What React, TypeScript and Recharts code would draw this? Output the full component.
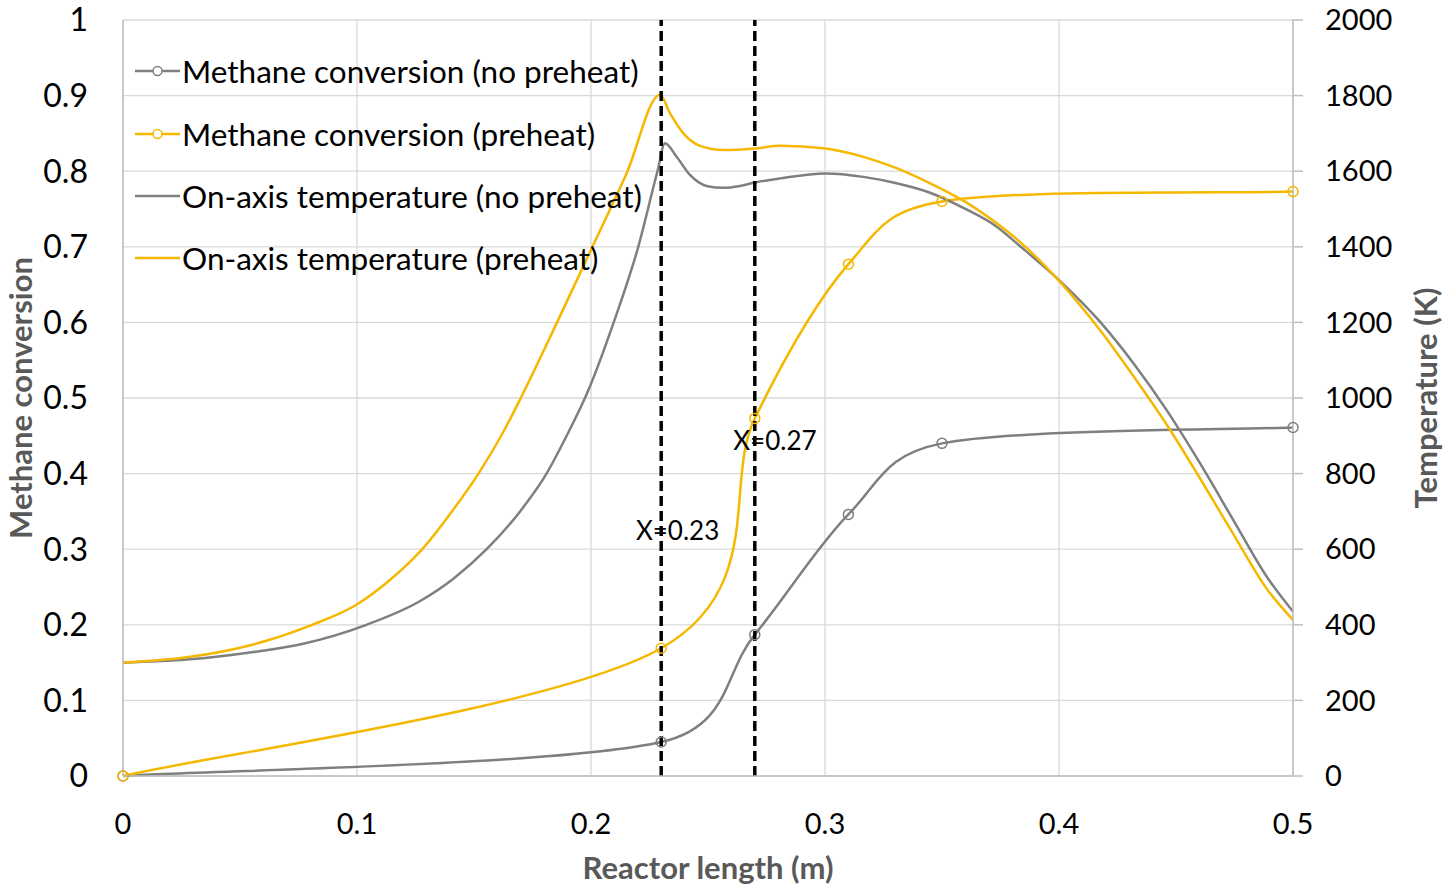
import React from 'react'
import {
  LineChart, Line, XAxis, YAxis, CartesianGrid, Legend, ReferenceLine, ReferenceDot,
} from 'recharts'

const FONT = 'Lato, "Open Sans", sans-serif'
const GREY = '#7f7f7f'
const GOLD = '#f5b800'
const GRID = '#d9d9d9'
const AXIS = '#bfbfbf'

// methane conversion, sampled at the marked points
const convX = [0, 0.23, 0.27, 0.31, 0.35, 0.5]
const convNoPreheat = [0, 0.045, 0.187, 0.346, 0.44, 0.461]
const convPreheat = [0, 0.169, 0.473, 0.677, 0.76, 0.773]

// on-axis temperature (K)
const tempNoPreheatX = [
  0, 0.0272, 0.0557, 0.077, 0.104, 0.127, 0.1412, 0.1554, 0.1697, 0.181, 0.1896, 0.1985,
  0.2097, 0.2202, 0.2284, 0.2316, 0.2366, 0.2423, 0.2494, 0.2565, 0.2637, 0.27, 0.2808,
  0.3003, 0.3164, 0.3306, 0.3449, 0.3591, 0.3734, 0.3833, 0.4, 0.4175, 0.4318, 0.446,
  0.4603, 0.4745, 0.4888, 0.5,
]
const tempNoPreheatK = [
  300, 308, 328, 350, 400, 463, 522, 600, 700, 800, 900, 1015,
  1200, 1400, 1600, 1674, 1638, 1590, 1561, 1556, 1561, 1570, 1581,
  1594, 1585, 1568, 1543, 1503, 1453, 1402, 1312, 1202, 1092, 968,
  827, 677, 527, 435,
]
const tempPreheatX = [
  0, 0.0272, 0.0557, 0.08, 0.1003, 0.1138, 0.1276, 0.1412, 0.1519, 0.1625, 0.17, 0.1855,
  0.2006, 0.2152, 0.2295, 0.2338, 0.2395, 0.2466, 0.2565, 0.27, 0.2808, 0.3003, 0.3164,
  0.3306, 0.3449, 0.3591, 0.3734, 0.3833, 0.4, 0.4175, 0.4318, 0.446, 0.4603, 0.4745,
  0.4888, 0.5,
]
const tempPreheatK = [
  300, 314, 348, 398, 455, 517, 598, 705, 800, 910, 1000, 1200,
  1400, 1594, 1802, 1753, 1700, 1667, 1656, 1660, 1667, 1660, 1638,
  1608, 1568, 1522, 1462, 1413, 1310, 1180, 1058, 930, 787, 640,
  495, 413,
]

const xTicks = [0, 0.1, 0.2, 0.3, 0.4, 0.5]
const convTicks = [0, 0.1, 0.2, 0.3, 0.4, 0.5, 0.6, 0.7, 0.8, 0.9, 1]
const tempTicks = [0, 200, 400, 600, 800, 1000, 1200, 1400, 1600, 1800, 2000]

const markerX = [0.23, 0.27]
const markerText = ['X=0.23', 'X=0.27']
const markerTextX = [0.237, 0.2786]
const markerTextY = [0.325, 0.444]

const convData = convX.map((x, i) => ({ x, convNoPreheat: convNoPreheat[i], convPreheat: convPreheat[i] }))
const tempNoPreheatData = tempNoPreheatX.map((x, i) => ({ x, tempNoPreheat: tempNoPreheatK[i] }))
const tempPreheatData = tempPreheatX.map((x, i) => ({ x, tempPreheat: tempPreheatK[i] }))

const dist = (a: number[], b: number[]) => Math.hypot(b[0] - a[0], b[1] - a[1])

// Excel-style smoothed line: bezier controls at (next - prev) / 6,
// pulled in to half the segment length when the neighbours are far away
function excelSmooth(context: any) {
  let pts: number[][] = []
  return {
    areaStart() {},
    areaEnd() {},
    lineStart() { pts = [] },
    point(x: number, y: number) { pts.push([+x, +y]) },
    lineEnd() {
      const n = pts.length
      if (!n) return
      context.moveTo(pts[0][0], pts[0][1])
      for (let i = 0; i < n - 1; i++) {
        const p0 = pts[Math.max(i - 1, 0)]
        const p1 = pts[i]
        const p2 = pts[i + 1]
        const p3 = pts[Math.min(i + 2, n - 1)]
        const d12 = dist(p1, p2)
        const d02 = dist(p0, p2)
        const d13 = dist(p1, p3)
        const f1 = d02 / 6 > d12 / 2 ? d12 / (2 * d02) : 1 / 6
        const f2 = d13 / 6 > d12 / 2 ? d12 / (2 * d13) : 1 / 6
        context.bezierCurveTo(
          p1[0] + (p2[0] - p0[0]) * f1, p1[1] + (p2[1] - p0[1]) * f1,
          p2[0] - (p3[0] - p1[0]) * f2, p2[1] - (p3[1] - p1[1]) * f2,
          p2[0], p2[1],
        )
      }
    },
  }
}

const titleStyle = { fontFamily: FONT, fontSize: 31, fontWeight: 700, fill: '#595959' }

const xTitle = ({ viewBox }: any) => (
  <text x={viewBox.x + viewBox.width / 2} y={viewBox.y + 91} textAnchor="middle"
    dominantBaseline="central" style={titleStyle}>Reactor length (m)</text>
)

const leftTitle = ({ viewBox }: any) => {
  const cx = viewBox.x + 20
  const cy = viewBox.y + viewBox.height / 2
  return (
    <text x={cx} y={cy} transform={`rotate(-90 ${cx} ${cy})`} textAnchor="middle"
      dominantBaseline="central" style={titleStyle}>Methane conversion</text>
  )
}

const rightTitle = ({ viewBox }: any) => {
  const cx = viewBox.x + viewBox.width - 20
  const cy = viewBox.y + viewBox.height / 2
  return (
    <text x={cx} y={cy} transform={`rotate(-90 ${cx} ${cy})`} textAnchor="middle"
      dominantBaseline="central" style={titleStyle}>Temperature (K)</text>
  )
}

const markerLabel = (text: string) => ({ viewBox }: any) => (
  <text x={viewBox.x} y={viewBox.y} textAnchor="middle" dominantBaseline="central"
    style={{ fontFamily: FONT, fontSize: 26, fill: '#000' }}>{text}</text>
)

const renderLegend = ({ payload }: any) => (
  <div style={{ fontFamily: FONT, fontSize: 31.5, color: '#000' }}>
    {(payload || []).map((entry: any) => (
      <div key={entry.value} style={{ display: 'flex', alignItems: 'center', height: 62.4 }}>
        <svg width={49} height={20}>
          <line x1={2} y1={10} x2={47} y2={10} stroke={entry.color} strokeWidth={2.5} />
          {String(entry.dataKey).startsWith('conv') && (
            <circle cx={24.5} cy={10} r={4.5} fill="#fff" stroke={entry.color} strokeWidth={1.5} />
          )}
        </svg>
        <span style={{ whiteSpace: 'nowrap' }}>{entry.value}</span>
      </div>
    ))}
  </div>
)

export default function App() {
  return (
    <div style={{ position: 'absolute', left: 0, top: 0, background: '#fff' }}>
      <LineChart width={1445} height={893} margin={{ top: 20, right: 0, bottom: 0, left: 0 }}
        style={{ fontFamily: FONT }}>
        <CartesianGrid yAxisId="left" stroke={GRID} strokeWidth={1.3} />
        <XAxis dataKey="x" type="number" domain={[0, 0.5]} ticks={xTicks} height={117}
          stroke={AXIS} strokeWidth={1.5} tickLine={false} tickSize={0} tickMargin={37}
          tick={{ fill: '#000', fontSize: 29 }} label={xTitle} />
        <YAxis yAxisId="left" domain={[0, 1]} ticks={convTicks} width={123}
          stroke={AXIS} strokeWidth={1.5} tickLine={false} tickSize={0} tickMargin={35}
          tick={{ fill: '#000', fontSize: 32 }} label={leftTitle} />
        <YAxis yAxisId="right" orientation="right" domain={[0, 2000]} ticks={tempTicks} width={152}
          stroke={AXIS} strokeWidth={1.5} tickSize={10} tickMargin={22}
          tick={{ fill: '#000', fontSize: 29 }} label={rightTitle} />
        <Legend content={renderLegend} layout="vertical" align="center" verticalAlign="middle"
          wrapperStyle={{ left: 133, top: 40, width: 'auto' }} />
        <Line data={convData} dataKey="convNoPreheat" name="Methane conversion (no preheat)"
          yAxisId="left" type={excelSmooth as any} stroke={GREY} strokeWidth={2.5}
          dot={{ r: 5, fill: 'none', stroke: GREY, strokeWidth: 1.5 }} activeDot={false}
          isAnimationActive={false} />
        <Line data={convData} dataKey="convPreheat" name="Methane conversion (preheat)"
          yAxisId="left" type={excelSmooth as any} stroke={GOLD} strokeWidth={2.5}
          dot={{ r: 5, fill: 'none', stroke: GOLD, strokeWidth: 1.5 }} activeDot={false}
          isAnimationActive={false} />
        <Line data={tempNoPreheatData} dataKey="tempNoPreheat" name="On-axis temperature (no preheat)"
          yAxisId="right" type="monotone" stroke={GREY} strokeWidth={2.5} dot={false}
          activeDot={false} isAnimationActive={false} />
        <Line data={tempPreheatData} dataKey="tempPreheat" name="On-axis temperature (preheat)"
          yAxisId="right" type="monotone" stroke={GOLD} strokeWidth={2.5} dot={false}
          activeDot={false} isAnimationActive={false} />
        {markerX.map((x) => (
          <ReferenceLine key={x} x={x} yAxisId="left" stroke="#000" strokeWidth={3.5}
            strokeDasharray="10 5" />
        ))}
        {markerText.map((t, i) => (
          <ReferenceDot key={t} x={markerTextX[i]} y={markerTextY[i]} yAxisId="left" r={0}
            fill="none" stroke="none" label={markerLabel(t)} />
        ))}
      </LineChart>
    </div>
  )
}
